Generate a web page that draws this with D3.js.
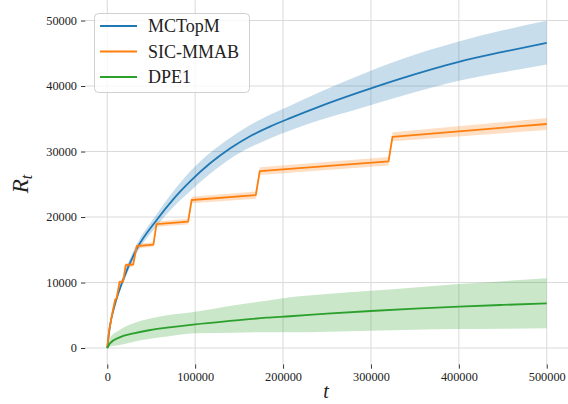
<!DOCTYPE html>
<html>
<head>
<meta charset="utf-8">
<script src="https://cdn.jsdelivr.net/npm/d3@7"></script>
<style>
	body { margin: 0; background: #fff; }
	svg { display: block; }
	.tick text { font-family: "Liberation Serif", serif; font-size: 12.3px; fill: #222; }
	.legendText { font-family: "Liberation Serif", serif; font-size: 18px; fill: #222; }
</style>
</head>
<body>
<svg class="mainSvg" width="568" height="404"></svg>
<script>
// MCTopM
var mcT     = [0, 3000, 8000, 18000, 33000, 56000, 75000, 94000, 117000, 140000, 162000, 185000, 208000, 242000, 288000, 333000, 400000, 450000, 500000];
var mcMean  = [0, 3300, 6300, 10400, 15000, 19500, 22700, 25400, 28200, 30500, 32300, 33800, 35100, 36900, 39100, 41100, 43700, 45200, 46600];
var mcUpper = [0, 3500, 6700, 11000, 15700, 20400, 23900, 26900, 29800, 32100, 34000, 35600, 37000, 39100, 41700, 44000, 46800, 48500, 49950];
var mcLower = [0, 3100, 5900, 9800, 14300, 18600, 21500, 23900, 26600, 28900, 30600, 32000, 33200, 34800, 36600, 38400, 40800, 42100, 43300];

// SIC-MMAB
var sicT     = [0, 2000, 6000, 9000, 10500, 14000, 18000, 21000, 29500, 33500, 52500, 56000, 92000, 96000, 169000, 173500, 320000, 324500, 500000];
var sicMean  = [0, 2600, 5500, 7400, 7500, 10100, 10150, 12650, 12750, 15550, 15800, 18900, 19300, 22600, 23350, 27000, 28500, 32250, 34200];
var sicUpper = [0, 2800, 5750, 7650, 7750, 10400, 10450, 12950, 13050, 15900, 16150, 19300, 19750, 23100, 23900, 27600, 29150, 32950, 35100];
var sicLower = [0, 2400, 5250, 7150, 7250, 9800, 9850, 12350, 12450, 15200, 15450, 18500, 18850, 22100, 22800, 26400, 27850, 31550, 33300];

// DPE1
var dpeT     = [0, 3000, 14000, 30000, 49000, 68000, 100000, 143000, 181000, 208000, 250000, 300000, 350000, 400000, 450000, 500000];
var dpeMean  = [0, 720, 1630, 2240, 2750, 3100, 3610, 4170, 4630, 4850, 5250, 5650, 6000, 6310, 6580, 6820];
var dpeUpper = [0, 1500, 2750, 3770, 4500, 5000, 5540, 6500, 7200, 7740, 8250, 8750, 9250, 9770, 10200, 10640];
var dpeLower = [0, 200, 460, 960, 1400, 1750, 2250, 2350, 2400, 2400, 2500, 2640, 2780, 2900, 2950, 3000];

var xTicks = [0, 100000, 200000, 300000, 400000, 500000];
var yTicks = [0, 10000, 20000, 30000, 40000, 50000];
var seriesNames = ["MCTopM", "SIC-MMAB", "DPE1"];
var seriesColors = ["#1f77b4", "#ff7f0e", "#2ca02c"];

var svg = d3.select(".mainSvg");

var xScale = d3.scaleLinear().domain([-25000, 525000]).range([85.3, 568.7]);
var yScale = d3.scaleLinear().domain([-2500, 52400]).range([364.4, 4.8]);

var left = xScale.range()[0], right = xScale.range()[1],
	top = yScale.range()[1], bottom = yScale.range()[0];

//grid
var grid = svg.append("g").attr("class", "grid");
grid.selectAll(".vgrid").data(xTicks).enter().append("line")
	.attr("x1", function(d){ return xScale(d); }).attr("x2", function(d){ return xScale(d); })
	.attr("y1", top).attr("y2", bottom)
	.attr("stroke", "#dadada").attr("stroke-width", 1);
grid.selectAll(".hgrid").data(yTicks).enter().append("line")
	.attr("y1", function(d){ return yScale(d); }).attr("y2", function(d){ return yScale(d); })
	.attr("x1", left).attr("x2", right)
	.attr("stroke", "#dadada").attr("stroke-width", 1);

//series
var zipRows = function(t, mean, lo, hi){
	return t.map(function(v, i){ return {t: v, m: mean[i], lo: lo[i], hi: hi[i]}; });
};
var series = [
	{rows: zipRows(mcT, mcMean, mcLower, mcUpper), curve: d3.curveMonotoneX},
	{rows: zipRows(sicT, sicMean, sicLower, sicUpper), curve: d3.curveLinear},
	{rows: zipRows(dpeT, dpeMean, dpeLower, dpeUpper), curve: d3.curveMonotoneX}
];

var plot = svg.append("g").attr("class", "plot");
series.forEach(function(s, i){
	var area = d3.area().curve(s.curve)
		.x(function(d){ return xScale(d.t); })
		.y0(function(d){ return yScale(d.lo); })
		.y1(function(d){ return yScale(d.hi); });
	var line = d3.line().curve(s.curve)
		.x(function(d){ return xScale(d.t); })
		.y(function(d){ return yScale(d.m); });
	plot.append("path").datum(s.rows)
		.attr("fill", seriesColors[i]).attr("fill-opacity", 0.25)
		.attr("d", area);
	plot.append("path").datum(s.rows)
		.attr("fill", "none").attr("stroke", seriesColors[i])
		.attr("stroke-width", 1.8).attr("stroke-linejoin", "round")
		.attr("d", line);
});

//axes
var xAxis = svg.append("g").attr("transform", "translate(0," + bottom + ")")
	.call(d3.axisBottom(xScale).tickValues(xTicks).tickFormat(d3.format("d")).tickSize(4.3).tickPadding(4));
var yAxis = svg.append("g").attr("transform", "translate(" + left + ",0)")
	.call(d3.axisLeft(yScale).tickValues(yTicks).tickFormat(d3.format("d")).tickSize(4.3).tickPadding(4));
[xAxis, yAxis].forEach(function(a){
	a.select(".domain").remove();
	a.selectAll(".tick line").attr("stroke", "#333").attr("stroke-width", 1);
});

//frame
svg.append("rect").attr("x", left).attr("y", top)
	.attr("width", right - left).attr("height", bottom - top)
	.attr("fill", "none").attr("stroke", "#333").attr("stroke-width", 1);

//labels
var yLabel = svg.append("text")
	.attr("transform", "translate(28,184) rotate(-90)")
	.attr("text-anchor", "middle")
	.style("font-family", "'Liberation Serif', serif").style("font-style", "italic")
	.style("font-size", "23px").attr("fill", "#222");
yLabel.append("tspan").text("R");
yLabel.append("tspan").attr("dy", 4).style("font-size", "16px").text("t");

svg.append("text").attr("x", 326).attr("y", 398)
	.attr("text-anchor", "middle")
	.style("font-family", "'Liberation Serif', serif").style("font-style", "italic")
	.style("font-size", "20px").attr("fill", "#222")
	.text("t");

//legend
var legend = svg.append("g").attr("class", "legend");
legend.append("rect").attr("x", 94.5).attr("y", 13.5).attr("width", 155).attr("height", 79)
	.attr("rx", 4).attr("fill", "#fff").attr("fill-opacity", 0.8)
	.attr("stroke", "#d0d0d0").attr("stroke-width", 1);
var items = legend.selectAll(".item").data(seriesNames).enter().append("g")
	.attr("transform", function(d, i){ return "translate(0," + (26 + i * 25.5) + ")"; });
items.append("line").attr("x1", 100).attr("x2", 137).attr("y1", 0).attr("y2", 0)
	.attr("stroke", function(d, i){ return seriesColors[i]; }).attr("stroke-width", 1.8);
items.append("text").attr("class", "legendText").attr("x", 148).attr("y", 0).attr("dy", "0.35em")
	.text(function(d){ return d; });
</script>
</body>
</html>
